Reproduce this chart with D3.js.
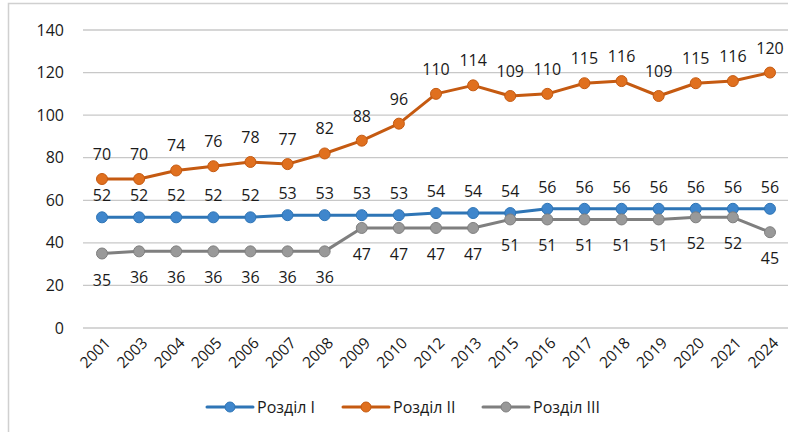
<!DOCTYPE html>
<html><head><meta charset="utf-8">
<script src="https://cdn.jsdelivr.net/npm/d3@7"></script>
<style>body{margin:0;background:#fff}svg{display:block}text{font-family:"Open Sans","Noto Sans",sans-serif;fill:#1a1a1a}</style>
</head><body><svg id="c" width="788" height="432"></svg>
<script>
const years = ["2001","2003","2004","2005","2006","2007","2008","2009","2010","2012","2013","2015","2016","2017","2018","2019","2020","2021","2024"];
const razdil1 = [52,52,52,52,52,53,53,53,53,54,54,54,56,56,56,56,56,56,56];
const razdil2 = [70,70,74,76,78,77,82,88,96,110,114,109,110,115,116,109,115,116,120];
const razdil3 = [35,36,36,36,36,36,36,47,47,47,47,51,51,51,51,51,52,52,45];
const yTicks = [0,20,40,60,80,100,120,140];
const seriesNames = ["Розділ I","Розділ II","Розділ III"];

const series = [
  {name: seriesNames[0], values: razdil1, line:"#2E75B6", fill:"#3F86CC", dy:-16},
  {name: seriesNames[1], values: razdil2, line:"#C55A11", fill:"#E0701F", dy:-19},
  {name: seriesNames[2], values: razdil3, line:"#7F7F7F", fill:"#999999", dy:32}
];

const svg = d3.select("#c");
svg.append("rect").attr("x",8.5).attr("y",3.5).attr("width",800).attr("height",440)
  .attr("fill","none").attr("stroke","#d0d0d0").attr("stroke-width",1.5);

const x = d3.scalePoint().domain(years).range([102,770]);
const y = d3.scaleLinear().domain([0,140]).range([328,30]);

const grid = svg.append("g");
grid.selectAll("line").data(yTicks).join("line")
  .attr("x1",83).attr("x2",788).attr("y1",d=>y(d)).attr("y2",d=>y(d))
  .attr("stroke","#c8c8c8").attr("stroke-width",1.3);

const yAxis = svg.append("g").attr("transform","translate(83,0)")
  .call(d3.axisLeft(y).tickValues(yTicks).tickSize(0).tickPadding(19));
yAxis.select(".domain").remove();
yAxis.selectAll("text").style("font-size","16px").attr("fill","#1a1a1a");

const xAxis = svg.append("g").attr("transform","translate(0,328)")
  .call(d3.axisBottom(x).tickSize(0));
xAxis.select(".domain").remove();
xAxis.selectAll("text").style("font-size","15.5px").attr("fill","#1a1a1a")
  .attr("text-anchor","end").attr("dy",null).attr("y",0)
  .attr("transform","translate(9,16) rotate(-45)");

const line = d3.line().x((d,i)=>x(years[i])).y(d=>y(d));
series.forEach(s=>{
  const g = svg.append("g");
  g.append("path").datum(s.values).attr("d",line).attr("fill","none")
    .attr("stroke",s.line).attr("stroke-width",3).attr("stroke-linejoin","round");
  g.selectAll("circle").data(s.values).join("circle")
    .attr("cx",(d,i)=>x(years[i])).attr("cy",d=>y(d)).attr("r",5.5)
    .attr("fill",s.fill).attr("stroke",s.line).attr("stroke-width",1);
  g.selectAll("text").data(s.values).join("text")
    .attr("x",(d,i)=>x(years[i])).attr("y",d=>y(d)+s.dy)
    .attr("text-anchor","middle").style("font-size","16px").text(d=>d);
});

const legX = [207,343,483];
const lg = svg.append("g").attr("transform","translate(0,407)");
series.forEach((s,i)=>{
  const g = lg.append("g").attr("transform",`translate(${legX[i]},0)`);
  g.append("line").attr("x1",0).attr("x2",46).attr("stroke",s.line).attr("stroke-width",3).attr("stroke-linecap","round");
  g.append("circle").attr("cx",23).attr("r",5).attr("fill",s.fill).attr("stroke",s.line);
  g.append("text").attr("x",50).attr("y",6).style("font-size","16px").text(s.name);
});
</script></body></html>
